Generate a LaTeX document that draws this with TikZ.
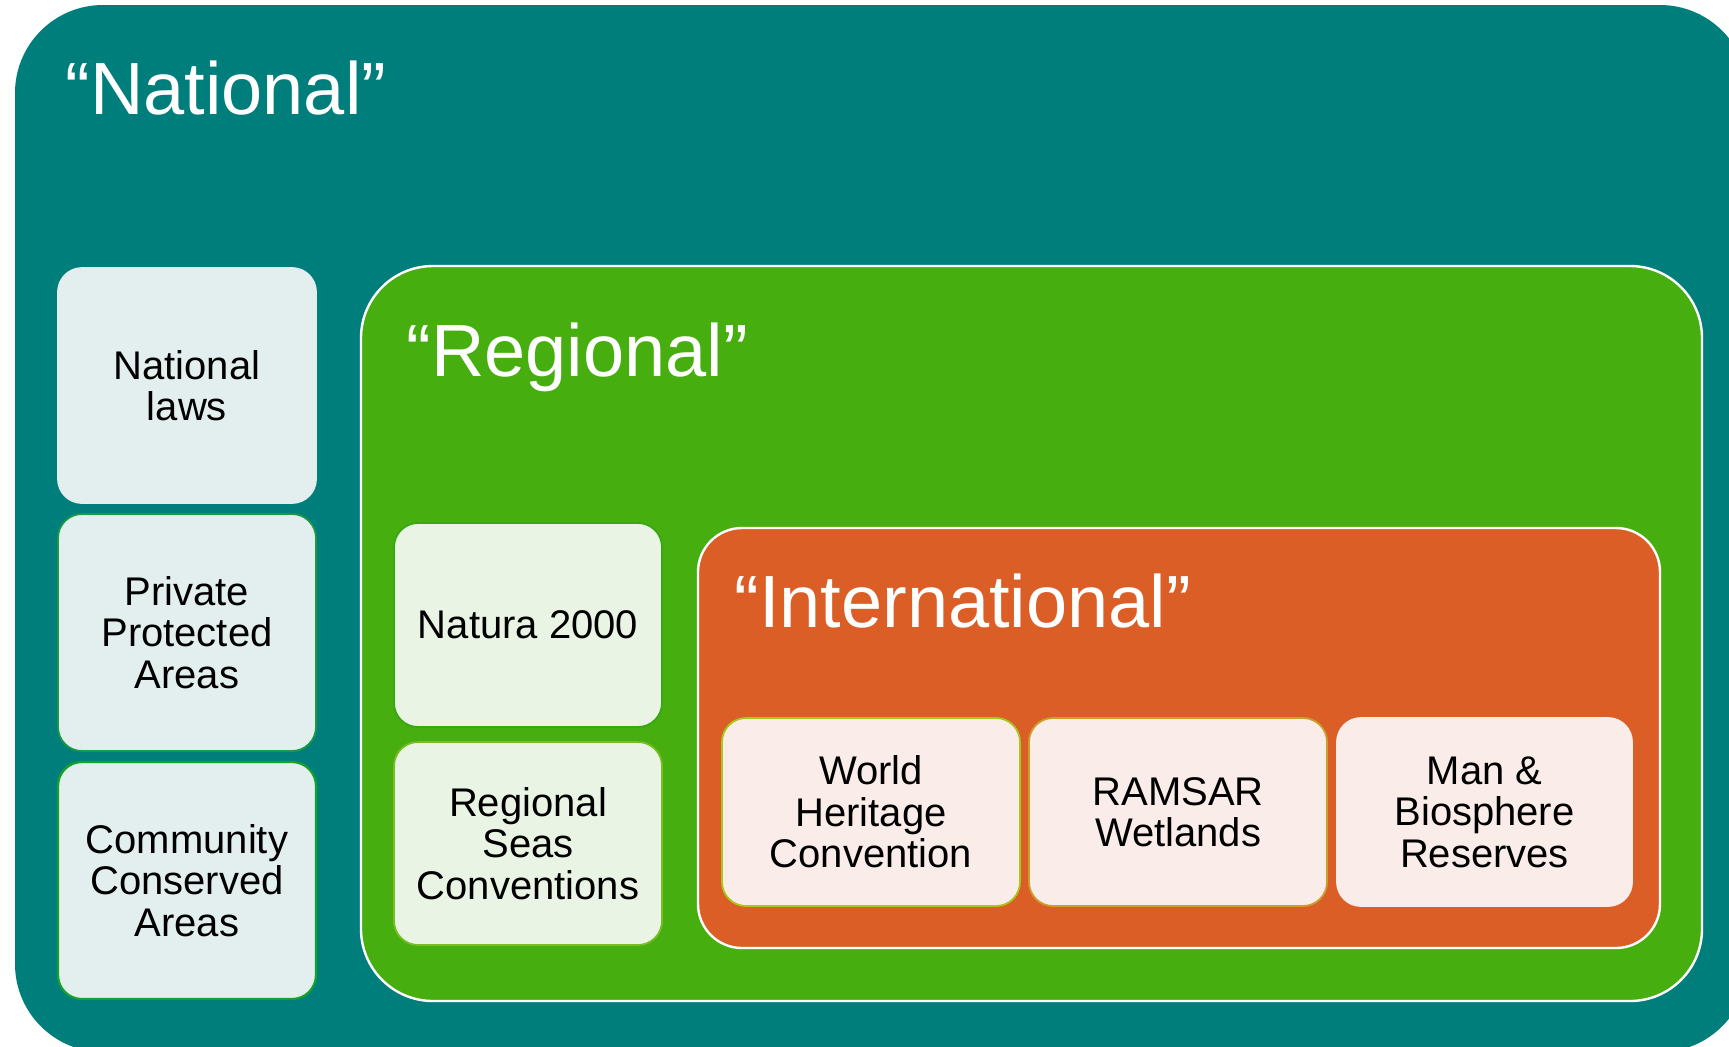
\documentclass[tikz,border=0pt]{standalone}
\usepackage{fontspec}
\setmainfont{Liberation Sans}
\definecolor{tealc}{HTML}{007E7B}
\definecolor{greenc}{HTML}{46AE0E}
\definecolor{orangec}{HTML}{DC5E27}
\definecolor{lboxc}{HTML}{E3EFEF}
\definecolor{mboxc}{HTML}{E9F4E5}
\definecolor{iboxc}{HTML}{FAEDE9}
\definecolor{ppab}{HTML}{1A9A45}
\definecolor{ccab}{HTML}{15A22A}
\definecolor{natb}{HTML}{36A814}
\definecolor{seasb}{HTML}{78BE22}
\definecolor{whcb}{HTML}{A8C81C}
\definecolor{ramb}{HTML}{C9A02C}
\begin{document}
\begin{tikzpicture}[x=0.5pt,y=-0.5pt,
  title/.style={anchor=base west,inner sep=0pt,text=white,font=\fontsize{37pt}{40pt}\selectfont},
  box/.style={rounded corners=12pt,line width=0.9pt,align=center,inner sep=0pt,
    font=\fontsize{20pt}{20.75pt}\selectfont,text=black},
  lbox/.style={box,fill=lboxc,minimum width=129pt},
  mbox/.style={box,fill=mboxc,minimum width=134pt},
  ibox/.style={box,fill=iboxc,minimum height=94pt}]
\useasboundingbox (0,0) rectangle (1729,1046);
\clip (0,0) rectangle (1729,1046);
\fill[white] (0,0) rectangle (1729,1046);
% National container
\fill[tealc,rounded corners=44pt] (15,5) rectangle (1748,1052);
\node[title] (tnat) at (65,114) {“National”};
% Left column
\node[lbox,draw=lboxc,minimum height=117.5pt] (laws) at (187,385.5) {National\\laws};
\node[lbox,draw=ppab,minimum height=118.5pt] (ppa) at (187,632.5) {Private\\Protected\\Areas};
\node[lbox,draw=ccab,line width=1.1pt,minimum height=118.5pt] (cca) at (187,880.5) {Community\\Conserved\\Areas};
% Regional container
\draw[white,line width=1.2pt,fill=greenc,rounded corners=36pt] (361,266) rectangle (1702,1001);
\node[title] (treg) at (406,376) {“Regional”};
\node[mbox,draw=natb,minimum height=102pt] (nat2000) at (528,625) {Natura 2000};
\node[mbox,draw=seasb,minimum height=101.5pt] (seas) at (528,843.5) {Regional\\Seas\\Conventions};
% International container
\draw[white,line width=1.2pt,fill=orangec,rounded corners=22pt] (698,528) rectangle (1660,948);
\node[title] (tint) at (734,627) {“International”};
\node[ibox,draw=whcb,minimum width=149pt] (whc) at (871,812) {World\\Heritage\\Convention};
\node[ibox,draw=ramb,minimum width=149pt] (ramsar) at (1178,812) {RAMSAR\\Wetlands};
\node[ibox,draw=iboxc,minimum width=147.5pt] (mab) at (1484.5,812) {Man \&\\Biosphere\\Reserves};
\end{tikzpicture}
\end{document}
